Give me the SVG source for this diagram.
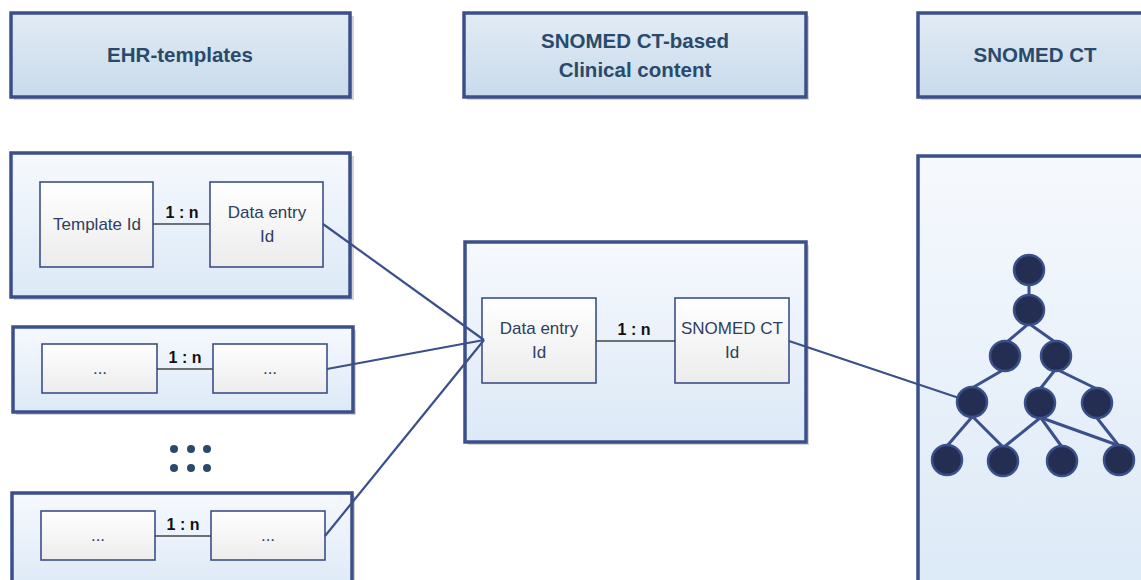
<svg xmlns="http://www.w3.org/2000/svg" width="1141" height="580" viewBox="0 0 1141 580">
<defs>
<linearGradient id="gHead" x1="0" y1="0" x2="0" y2="1"><stop offset="0" stop-color="#e2ebf4"/><stop offset="1" stop-color="#c8dbeb"/></linearGradient>
<linearGradient id="gBox" x1="0" y1="0" x2="0" y2="1"><stop offset="0" stop-color="#f6f9fd"/><stop offset="1" stop-color="#dce9f7"/></linearGradient>
<linearGradient id="gInner" x1="0" y1="0" x2="0" y2="1"><stop offset="0" stop-color="#ffffff"/><stop offset="1" stop-color="#ececec"/></linearGradient>
</defs>
<style>
.head{fill:url(#gHead);stroke:#3b4f8a;stroke-width:3.5}
.box{fill:url(#gBox);stroke:#3b4f8a;stroke-width:3.5}
.shadow{fill:#d4d4d4}
.inner{fill:url(#gInner);stroke:#3b4f8a;stroke-width:1.6}
.ht{font-family:"Liberation Sans",Arial,sans-serif;font-weight:bold;font-size:20.5px;fill:#2a4a6b;text-anchor:middle}
.it{font-family:"Liberation Sans",Arial,sans-serif;font-size:17px;fill:#2d3e5e;text-anchor:middle}
.rel{font-family:"Liberation Sans",Arial,sans-serif;font-weight:bold;font-size:16px;fill:#111;text-anchor:middle}
.rl{stroke:#444;stroke-width:1.6}
.conn{stroke:#3b4f8a;stroke-width:2.2;fill:none}
.te{stroke:#3b4f8a;stroke-width:3;fill:none}
.nd{fill:#232e52;stroke:#3b4f8a;stroke-width:2.5}
.dot{fill:#2a4a6b}
</style>

<g id="head-ehr">
<rect class="shadow" x="14" y="16" width="340" height="84"/>
<rect class="head" x="11" y="13" width="339" height="84"/>
<text class="ht" x="180" y="62">EHR-templates</text>
</g>
<g id="head-content">
<rect class="shadow" x="467" y="16" width="342" height="84"/>
<rect class="head" x="464" y="13" width="342" height="84"/>
<text class="ht" x="635" y="48">SNOMED CT-based</text>
<text class="ht" x="635" y="77">Clinical content</text>
</g>
<g id="head-snomed">
<rect class="shadow" x="921" y="16" width="240" height="84"/>
<rect class="head" x="918" y="13" width="240" height="84"/>
<text class="ht" x="1035" y="62">SNOMED CT</text>
</g>

<g id="template1">
<rect class="shadow" x="14" y="156" width="340" height="144"/>
<rect class="box" x="11" y="153" width="339" height="144"/>
<rect class="inner" x="40" y="182" width="113" height="85"/>
<text class="it" x="97" y="230">Template Id</text>
<rect class="inner" x="210" y="182" width="113" height="85"/>
<text class="it" x="267" y="218">Data entry</text>
<text class="it" x="267" y="242">Id</text>
<line class="rl" x1="153" y1="224" x2="210" y2="224"/>
<text class="rel" x="182" y="218">1 : n</text>
</g>

<g id="template2">
<rect class="shadow" x="16" y="330" width="340" height="85"/>
<rect class="box" x="13" y="327" width="340" height="85"/>
<rect class="inner" x="42" y="344" width="115" height="49"/>
<text class="it" x="100" y="374">...</text>
<rect class="inner" x="213" y="344" width="114" height="49"/>
<text class="it" x="270" y="374">...</text>
<line class="rl" x1="157" y1="369" x2="213" y2="369"/>
<text class="rel" x="185" y="363">1 : n</text>
</g>

<g id="ellipsis">
<circle class="dot" cx="174" cy="449" r="4"/><circle class="dot" cx="191" cy="449" r="4"/><circle class="dot" cx="207" cy="449" r="4"/>
<circle class="dot" cx="174" cy="468" r="4"/><circle class="dot" cx="191" cy="468" r="4"/><circle class="dot" cx="207" cy="468" r="4"/>
</g>

<g id="template3">
<rect class="shadow" x="15" y="496" width="340" height="100"/>
<rect class="box" x="12" y="493" width="340" height="100"/>
<rect class="inner" x="41" y="511" width="114" height="49"/>
<text class="it" x="98" y="541">...</text>
<rect class="inner" x="211" y="511" width="114" height="49"/>
<text class="it" x="268" y="541">...</text>
<line class="rl" x1="155" y1="536" x2="211" y2="536"/>
<text class="rel" x="183" y="530">1 : n</text>
</g>

<g id="content">
<rect class="shadow" x="468" y="245" width="341" height="200"/>
<rect class="box" x="465" y="242" width="341" height="200"/>
<rect class="inner" x="482" y="298" width="114" height="85"/>
<text class="it" x="539" y="334">Data entry</text>
<text class="it" x="539" y="358">Id</text>
<rect class="inner" x="675" y="298" width="114" height="85"/>
<text class="it" x="732" y="334">SNOMED CT</text>
<text class="it" x="732" y="358">Id</text>
<line class="rl" x1="596" y1="341" x2="675" y2="341"/>
<text class="rel" x="634" y="335">1 : n</text>
</g>

<g id="snomed">
<rect class="shadow" x="921" y="159" width="240" height="440"/>
<rect class="box" x="918" y="156" width="240" height="440"/>
<g id="tree-edges">
<line class="te" x1="1029" y1="284" x2="1029" y2="297"/>
<line class="te" x1="1027" y1="325" x2="1007" y2="342"/>
<line class="te" x1="1031" y1="325" x2="1055" y2="342"/>
<line class="te" x1="1003" y1="370" x2="972" y2="388"/>
<line class="te" x1="1055" y1="370" x2="1040" y2="389"/>
<line class="te" x1="1058" y1="370" x2="1097" y2="389"/>
<line class="te" x1="972" y1="417" x2="947" y2="446"/>
<line class="te" x1="973" y1="417" x2="1003" y2="447"/>
<line class="te" x1="1040" y1="418" x2="1004" y2="447"/>
<line class="te" x1="1041" y1="418" x2="1062" y2="447"/>
<line class="te" x1="1042" y1="418" x2="1120" y2="446"/>
<line class="te" x1="1097" y1="418" x2="1119" y2="446"/>
</g>
<circle class="nd" cx="1029" cy="270" r="15"/>
<circle class="nd" cx="1029" cy="310" r="15"/>
<circle class="nd" cx="1005" cy="356" r="15"/>
<circle class="nd" cx="1056" cy="356" r="15"/>
<circle class="nd" cx="972" cy="402" r="15"/>
<circle class="nd" cx="1040" cy="403" r="15"/>
<circle class="nd" cx="1097" cy="403" r="15"/>
<circle class="nd" cx="947" cy="460" r="15"/>
<circle class="nd" cx="1003" cy="461" r="15"/>
<circle class="nd" cx="1062" cy="461" r="15"/>
<circle class="nd" cx="1119" cy="460" r="15"/>
</g>

<g id="connectors">
<line class="conn" x1="323" y1="224" x2="484" y2="340"/>
<line class="conn" x1="327" y1="369" x2="484" y2="340"/>
<line class="conn" x1="325" y1="536" x2="484" y2="340"/>
<line class="conn" x1="789" y1="341" x2="959" y2="398"/>
</g>
</svg>
